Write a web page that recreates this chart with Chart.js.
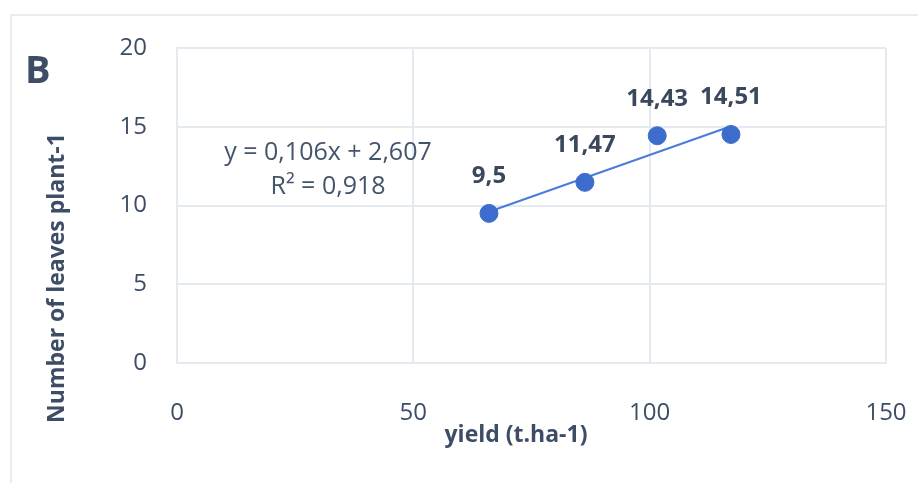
<!DOCTYPE html>
<html>
<head>
<meta charset="utf-8">
<script src="https://cdn.jsdelivr.net/npm/chart.js@4/dist/chart.umd.min.js"></script>
<style>
  html, body { margin: 0; padding: 0; background: #fff; }
  #wrap { position: relative; width: 918px; height: 483px; overflow: hidden; }
  #frame { position: absolute; left: 10px; top: 14px; width: 940px; height: 500px;
           border-left: 2px solid #e8ebf0; border-top: 2px solid #e8ebf0; }
  canvas { position: absolute; left: 0; top: 0; }
</style>
</head>
<body>
<div id="wrap">
  <div id="frame"></div>
  <canvas id="chart" width="918" height="483"></canvas>
</div>
<script>
// values
const yieldVals = [66, 86.3, 101.6, 117.2];
const leafVals = [9.5, 11.47, 14.43, 14.51];
// linear trendline end points (as drawn)
const trendX = [66, 117.2];
const trendY = [9.6, 15.03];

const xTicks = [0, 50, 100, 150];
const yTicks = [0, 5, 10, 15, 20];

const textColor = "#3e4d66";
const gridColor = "#e5e9f0";
const pointBlue = "#3d6dcc";
const lineBlue = "#4a7dd8";

const pts = yieldVals.map((x, i) => ({ x: x, y: leafVals[i] }));
const trend = trendX.map((x, i) => ({ x: x, y: trendY[i] }));

const textPlugin = {
  id: "texts",
  afterDatasetsDraw(chart) {
    const ctx = chart.ctx;
    const meta = chart.getDatasetMeta(0);
    ctx.save();
    ctx.fillStyle = "#3a475c";
    ctx.font = "bold 24px 'Open Sans'";
    ctx.textAlign = "center";
    ctx.textBaseline = "middle";
    meta.data.forEach((el, i) => {
      ctx.fillText(String(leafVals[i]).replace(".", ","), el.x, el.y - 37);
    });
    ctx.restore();
  },
  afterDraw(chart) {
    const ctx = chart.ctx;
    const a = chart.chartArea;
    ctx.save();
    ctx.fillStyle = textColor;

    // panel letter
    ctx.font = "bold 38px 'Open Sans'";
    ctx.textAlign = "left";
    ctx.textBaseline = "alphabetic";
    ctx.fillText("B", 25, 83);

    // trendline equation
    ctx.textAlign = "center";
    ctx.textBaseline = "middle";
    ctx.fillStyle = "#44546a";
    ctx.font = "25px 'Open Sans'";
    ctx.fillText("y = 0,106x + 2,607", a.left + 151, a.top + 105);
    ctx.fillText("R\u00b2 = 0,918", a.left + 151, a.top + 139);

    // axis titles
    ctx.fillStyle = textColor;
    ctx.font = "bold 23px 'Open Sans'";
    ctx.fillText("yield (t.ha-1)", a.left + 339, a.bottom + 72);
    ctx.translate(a.left - 120, a.bottom - 85);
    ctx.rotate(-Math.PI / 2);
    ctx.fillText("Number of leaves plant-1", 0, 0);
    ctx.restore();
  }
};

new Chart(document.getElementById("chart").getContext("2d"), {
  type: "scatter",
  data: {
    datasets: [
      {
        label: "leaves",
        data: pts,
        backgroundColor: pointBlue,
        borderColor: pointBlue,
        pointRadius: 9,
        pointHoverRadius: 9,
        order: 0
      },
      {
        label: "trend",
        type: "line",
        data: trend,
        borderColor: lineBlue,
        borderWidth: 2,
        pointRadius: 0,
        fill: false,
        order: 1
      }
    ]
  },
  options: {
    responsive: false,
    animation: false,
    layout: { padding: { top: 48, right: 32, left: 0, bottom: 0 } },
    plugins: {
      legend: { display: false },
      tooltip: { enabled: false }
    },
    scales: {
      x: {
        type: "linear",
        min: xTicks[0],
        max: xTicks[xTicks.length - 1],
        afterBuildTicks: (s) => { s.ticks = xTicks.map(v => ({ value: v })); },
        afterFit: (s) => { s.height = 120; },
        grid: { color: gridColor, lineWidth: 2, drawTicks: true, tickLength: 36, tickColor: "rgba(0,0,0,0)" },
        border: { color: gridColor, width: 2 },
        ticks: { color: textColor, font: { family: "'Open Sans'", size: 24 }, padding: 0, maxRotation: 0 }
      },
      y: {
        min: yTicks[0],
        max: yTicks[yTicks.length - 1],
        afterBuildTicks: (s) => { s.ticks = yTicks.map(v => ({ value: v })); },
        afterFit: (s) => { s.width = 177; },
        grid: { color: gridColor, lineWidth: 2, drawTicks: true, tickLength: 30, tickColor: "rgba(0,0,0,0)" },
        border: { color: gridColor, width: 2 },
        ticks: { color: textColor, font: { family: "'Open Sans'", size: 24 }, padding: 0 }
      }
    }
  },
  plugins: [textPlugin]
});
</script>
</body>
</html>
